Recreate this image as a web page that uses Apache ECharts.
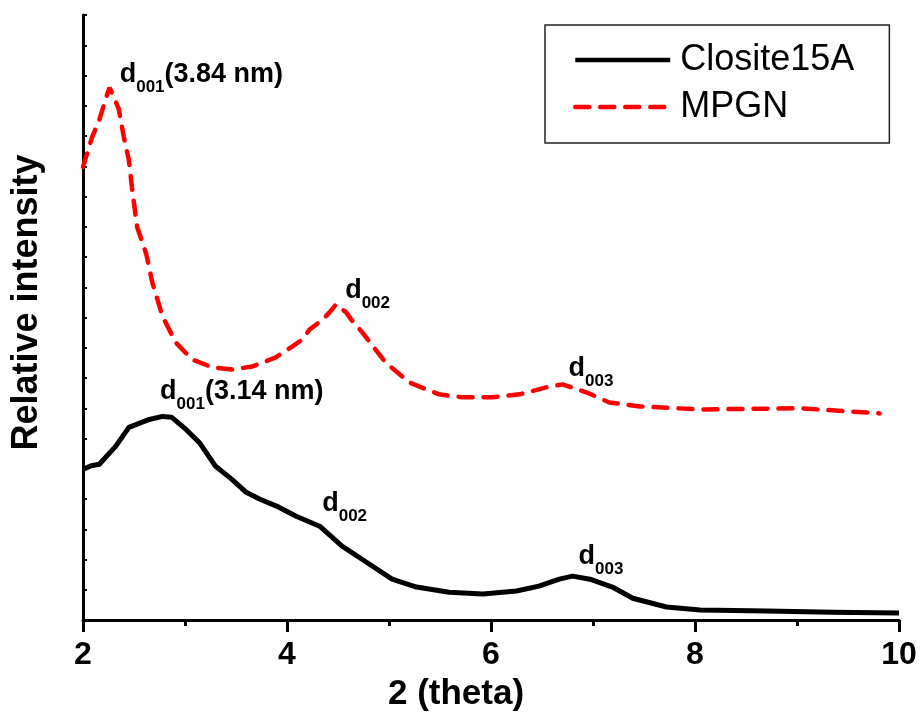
<!DOCTYPE html>
<html>
<head>
<meta charset="utf-8">
<script src="https://cdn.jsdelivr.net/npm/echarts@6/dist/echarts.min.js"></script>
<style>
html, body { margin: 0; padding: 0; background: #fff; }
#chart { width: 923px; height: 717px; }
</style>
</head>
<body>
<div id="chart"></div>
<script>
// Closite15A (black, solid)
var clositeX = [2.0, 2.08, 2.16, 2.32, 2.45, 2.65, 2.78, 2.87, 3.01, 3.14, 3.3, 3.46, 3.6, 3.73, 3.92, 4.09, 4.32, 4.54, 4.78, 5.03, 5.27, 5.59, 5.92, 6.25, 6.47, 6.67, 6.8, 6.97, 7.19, 7.39, 7.72, 8.05, 8.7, 9.35, 10.0]
var clositeY = [4.98, 5.1, 5.15, 5.74, 6.37, 6.63, 6.73, 6.7, 6.3, 5.87, 5.08, 4.65, 4.22, 4.0, 3.73, 3.43, 3.1, 2.44, 1.91, 1.35, 1.09, 0.92, 0.86, 0.96, 1.12, 1.35, 1.45, 1.35, 1.09, 0.72, 0.43, 0.33, 0.3, 0.26, 0.23]
// MPGN (red, dashed)
var mpgnX = [2.0, 2.09, 2.16, 2.22, 2.26, 2.3, 2.35, 2.4, 2.45, 2.48, 2.53, 2.62, 2.68, 2.78, 2.91, 3.07, 3.27, 3.46, 3.66, 3.89, 4.05, 4.15, 4.22, 4.35, 4.44, 4.48, 4.58, 4.63, 4.74, 4.83, 4.97, 5.2, 5.49, 5.72, 6.01, 6.28, 6.54, 6.7, 6.94, 7.16, 7.46, 8.05, 9.03, 9.81]
var mpgnY = [14.98, 15.97, 16.53, 17.2, 17.6, 17.3, 16.9, 15.97, 15.2, 14.3, 13.0, 12.1, 11.15, 10.03, 9.17, 8.61, 8.35, 8.28, 8.38, 8.68, 9.04, 9.27, 9.6, 9.93, 10.26, 10.43, 10.17, 9.93, 9.5, 9.1, 8.5, 7.85, 7.46, 7.36, 7.36, 7.46, 7.69, 7.79, 7.52, 7.19, 7.06, 6.96, 7.0, 6.83]
// peak annotations
var noteX = [2.36, 4.57, 6.76, 2.756, 4.345, 6.858]
var noteY = [17.91, 10.76, 8.19, 7.42, 3.73, 1.96]
var noteSub = ['001', '002', '003', '001', '002', '003']
var noteTail = ['(3.84 nm)', '', '', '(3.14 nm)', '', '']

var xTicks = [2, 4, 6, 8, 10]

function pairs (xs, ys) {
  return xs.map(function (x, i) { return [x, ys[i]] })
}

var chart = echarts.init(document.getElementById('chart'))
var font = 'Liberation Sans, Arial, sans-serif'

var option = {
  animation: false,
  grid: { left: 83, right: 24, top: 15, bottom: 94 },
  legend: {
    orient: 'vertical',
    left: 545,
    top: 25,
    data: ['Closite15A', 'MPGN'],
    borderColor: '#222',
    borderWidth: 1.5,
    padding: [17, 35, 18, 28],
    itemWidth: 95,
    itemHeight: 36,
    itemGap: 11,
    itemStyle: { opacity: 0 },
    lineStyle: { width: 4.5 },
    textStyle: { fontSize: 36, color: '#000', fontFamily: font, padding: [0, 0, 0, 5] }
  },
  xAxis: {
    type: 'value',
    min: xTicks[0],
    max: xTicks[xTicks.length - 1],
    interval: 2,
    name: '2 (theta)',
    nameLocation: 'middle',
    nameGap: 57,
    nameTextStyle: { fontSize: 35, fontWeight: 'bold', color: '#000', fontFamily: font, padding: [0, 70, 0, 0] },
    axisLine: { lineStyle: { color: '#000', width: 3 } },
    axisTick: { length: 12, lineStyle: { width: 3, color: '#000' } },
    minorTick: { show: true, splitNumber: 2, length: 6, lineStyle: { width: 3, color: '#000' } },
    axisLabel: { fontSize: 32, fontWeight: 'bold', color: '#000', fontFamily: font, margin: 19 },
    splitLine: { show: false }
  },
  yAxis: {
    type: 'value',
    min: 0,
    max: 20,
    interval: 1,
    name: 'Relative intensity',
    nameLocation: 'middle',
    nameGap: 38,
    nameTextStyle: { fontSize: 36, fontWeight: 'bold', color: '#000', fontFamily: font, padding: [0, 0, 0, 30] },
    axisLine: { show: true, lineStyle: { color: '#000', width: 3, cap: 'round' } },
    axisTick: { show: true, inside: true, length: 4, lineStyle: { width: 2, color: '#000' } },
    axisLabel: { show: false },
    splitLine: { show: false }
  },
  series: [
    {
      name: 'Closite15A',
      type: 'line',
      data: pairs(clositeX, clositeY),
      showSymbol: false,
      symbol: 'none',
      lineStyle: { color: '#000', width: 5, join: 'round' },
      itemStyle: { color: '#000' }
    },
    {
      name: 'MPGN',
      type: 'line',
      data: pairs(mpgnX, mpgnY),
      showSymbol: false,
      symbol: 'none',
      lineStyle: { color: '#ff0000', width: 4.5, type: [14, 11], cap: 'round' },
      itemStyle: { color: '#ff0000' }
    },
    {
      name: 'notes',
      type: 'scatter',
      silent: true,
      symbolSize: 0,
      itemStyle: { opacity: 1 },
      data: noteX.map(function (x, i) { return [x, noteY[i], i] }),
      label: {
        show: true,
        position: 'right',
        distance: 0,
        color: '#000',
        formatter: function (p) {
          var i = p.data[2]
          var s = '{m|d}{s|' + noteSub[i] + '}'
          if (noteTail[i]) s += '{m|' + noteTail[i] + '}'
          return s
        },
        rich: {
          m: { fontSize: 27, fontWeight: 'bold', color: '#000', fontFamily: font, lineHeight: 26, verticalAlign: 'top' },
          s: { fontSize: 17, fontWeight: 'bold', color: '#000', fontFamily: font, verticalAlign: 'top', padding: [18, 0, 0, 0] }
        }
      }
    }
  ]
}
chart.setOption(option)
</script>
</body>
</html>
